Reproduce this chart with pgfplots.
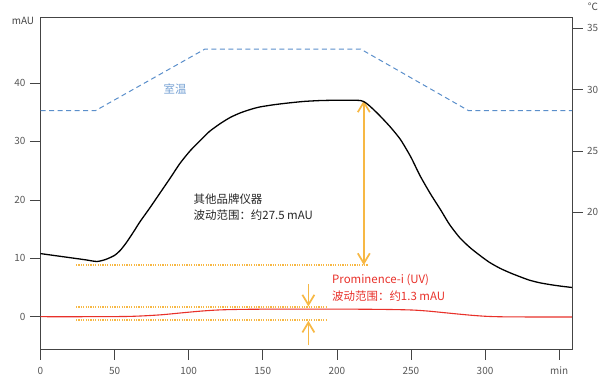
\documentclass[border=0pt]{standalone}
\usepackage{fontspec}
\setmainfont{Noto Sans CJK SC}
\usepackage{pgfplots}
\pgfplotsset{compat=1.18}
\usetikzlibrary{arrows.meta}
\definecolor{axgray}{HTML}{444444}
\definecolor{tempblue}{HTML}{5B8FCB}
\definecolor{redline}{HTML}{E8312A}
\definecolor{orng}{HTML}{F7B844}
\pgfplotsset{
  common/.style={
    scale only axis, width=531.5bp, height=332bp,
    at={(0,0)}, anchor=south west,
    xmin=0, xmax=358.7,
    axis line style={axgray, line width=0.8pt},
    tick align=outside, major tick length=10.5bp,
    tick style={axgray, line width=0.7pt},
    ticklabel style={font=\fontsize{10}{12}\selectfont, text=axgray!90},
    /pgf/number format/assume math mode=true,
    clip=false,
  }
}
\begin{document}
\begin{tikzpicture}
\begin{axis}[common,
  ymin=-5.53, ymax=51.3,
  xtick={0,50,...,350}, xticklabels={0,50,100,150,200,250,300,min},
  ytick={0,10,20,30,40},
  xtick pos=bottom, ytick pos=left,
  xticklabel style={yshift=-4bp},
  yticklabel style={xshift=-1bp},
]
% annotation guides
\addplot[orng, line width=1.4bp, dash pattern=on 1.2bp off 1.2bp] coordinates {(24,8.85) (221,8.85)};
\addplot[orng, line width=1.4bp, dash pattern=on 1.2bp off 1.2bp] coordinates {(24,1.65) (193,1.65)};
\addplot[orng, line width=1.4bp, dash pattern=on 1.2bp off 1.2bp] coordinates {(24,-0.57) (193,-0.57)};
\addplot[orng, line width=1.7bp, {Straight Barb[length=10bp,width=12bp]}-{Straight Barb[length=10bp,width=12bp]}] coordinates {(218.2,37.0) (218.2,8.85)};
\addplot[orng, line width=1.7bp, -{Straight Barb[length=10bp,width=12bp]}] coordinates {(180.8,5.6) (180.8,1.75)};
\addplot[orng, line width=1.7bp, -{Straight Barb[length=10bp,width=12bp]}] coordinates {(180.8,-4.9) (180.8,-0.7)};
% other brand
\addplot[black, line width=1.3bp, smooth, tension=0.4] coordinates {
(0,10.8) (10,10.45) (20,10.1) (30,9.75) (38,9.45) (44,9.8) (50,10.5) (54,11.4) (58,12.7)
(63,14.6) (67,16.2) (74,18.7) (81,21.3) (88,23.9) (94,26.2) (101,28.4) (108,30.2)
(114,31.7) (121,33.0) (128,34.1) (135,34.9) (142,35.5) (148,35.9) (158,36.3) (168,36.6)
(178,36.85) (189,37.0) (200,37.05) (210,37.05) (216,37.0) (219,36.7) (222,36.1) (225,35.4)
(229,34.4) (236,32.5) (243,30.3) (250,27.3) (256,24.2) (263,21.1) (270,18.3) (276,15.8)
(283,13.5) (290,11.8) (297,10.4) (303,9.3) (310,8.3) (317,7.5) (324,6.8) (330,6.25)
(337,5.8) (345,5.45) (352,5.2) (358.7,5.0)};
% Prominence-i
\addplot[redline, line width=1.1bp, smooth, tension=0.5] coordinates {
(0,0) (30,0) (60,0.05) (80,0.3) (95,0.65) (108,0.95) (120,1.15) (135,1.25) (160,1.3)
(200,1.3) (230,1.25) (250,1.15) (262,0.95) (272,0.7) (282,0.45) (292,0.22) (302,0.05)
(315,-0.03) (340,-0.05) (358.7,-0.05)};
\node[font=\fontsize{10}{12}\selectfont, text=axgray, xshift=-17.5bp, yshift=-4bp] at (rel axis cs:0,1) {mAU};
\node[font=\fontsize{11.5}{16}\selectfont, anchor=west, align=left, text=black!85] at (axis cs:101,18.8) {其他品牌仪器\\波动范围：约27.5 mAU};
\node[font=\fontsize{11.5}{17}\selectfont, anchor=west, align=left, text=redline] at (axis cs:194.5,4.9) {Prominence-i (UV)\\波动范围：约1.3 mAU};
\end{axis}
\begin{axis}[common,
  ymin=8.86, ymax=35.92,
  axis y line*=right, axis x line=none,
  ytick={20,25,30,35},
  yticklabel style={xshift=1bp},
]
\addplot[tempblue, line width=1bp, dash pattern=on 5bp off 3.5bp] coordinates {
(0,28.28) (37,28.28) (111,33.31) (216,33.31) (289,28.28) (358.7,28.28)};
\node[font=\fontsize{11.5}{14}\selectfont, text=tempblue!85] at (axis cs:90.8,30.05) {室温};
\node[font=\fontsize{10}{12}\selectfont, text=axgray, xshift=21bp, yshift=10bp] at (rel axis cs:1,1) {°C};
\end{axis}
\pgfresetboundingbox
\useasboundingbox (-40.5bp,-33bp) rectangle (562.5bp,349bp);
\end{tikzpicture}
\end{document}
